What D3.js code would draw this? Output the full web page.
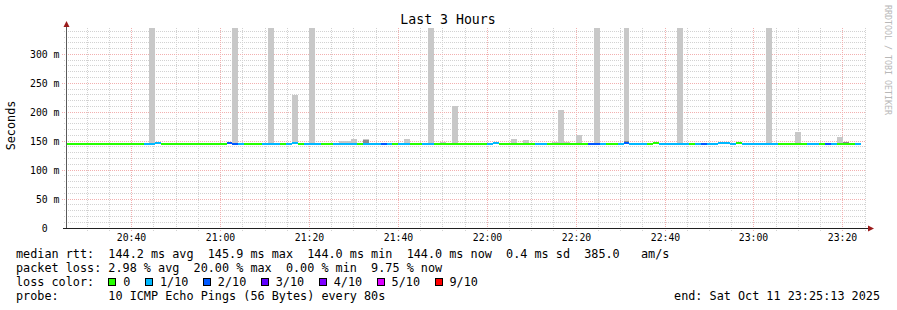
<!DOCTYPE html>
<html>
<head>
<meta charset="utf-8">
<script src="https://cdn.jsdelivr.net/npm/d3@7"></script>
<style>
  body { margin: 0; background: #fff; }
  text { font-family: "DejaVu Sans Mono", monospace; white-space: pre; }
</style>
</head>
<body>
<svg id="chart" width="897" height="310"></svg>
<script>
// time window of the graph and the 80 s rrd steps
const timeStart = new Date(Date.UTC(2025, 9, 11, 20, 25, 13));
const timeEnd = new Date(Date.UTC(2025, 9, 11, 23, 25, 13));
const firstStep = new Date(Date.UTC(2025, 9, 11, 20, 25, 20));
const stepSeconds = 80;

// lost pings (out of 10) per step
const loss = [
  0,0,0,0,0,0,0,0,0,0,
  0,0,0,1,1,1,0,0,0,0,
  0,0,0,0,0,0,0,2,2,1,
  0,0,0,1,1,1,0,1,1,0,
  1,1,1,0,0,1,1,1,1,0,
  1,1,1,2,1,0,1,1,0,0,
  1,1,0,0,0,0,0,0,0,0,
  0,1,1,0,0,0,0,0,0,1,
  1,0,0,0,0,0,0,0,2,2,
  1,0,0,1,2,1,1,1,0,0,
  1,1,1,1,1,0,1,2,1,1,
  1,1,1,0,1,1,1,1,1,1,
  0,0,0,0,0,1,1,0,2,1,
  0,0,0,1
];

// median rtt (ms) per step
const median = [
  144.0,144.0,144.0,144.0,144.0,144.0,144.0,144.0,144.0,144.0,
  144.0,144.0,144.0,144.0,144.0,145.8,144.0,144.0,144.0,144.0,
  144.0,144.0,144.0,144.0,144.0,144.0,144.0,145.9,144.0,144.0,
  144.0,144.0,144.0,144.0,144.0,144.0,144.0,144.0,145.7,144.0,
  144.0,144.0,144.0,144.0,144.0,144.0,144.0,144.0,144.0,144.0,
  144.0,144.0,144.0,144.0,144.0,144.0,144.0,144.0,144.0,144.0,
  144.0,144.0,144.0,144.0,144.0,144.0,144.0,144.0,144.0,144.0,
  144.0,144.0,145.6,144.0,144.0,144.0,144.0,144.0,144.0,144.0,
  144.0,144.0,144.0,144.0,144.0,144.0,144.0,144.0,144.0,144.0,
  144.0,144.0,144.0,144.0,145.9,144.0,144.0,144.0,144.0,145.5,
  144.0,144.0,144.0,144.0,144.0,144.0,144.0,144.0,144.0,144.0,
  145.6,145.6,144.0,145.7,144.0,144.0,144.0,144.0,144.0,144.0,
  144.0,144.0,144.0,144.0,144.0,144.0,144.0,144.0,144.0,144.0,
  144.0,144.0,144.0,144.0
];

// highest ping of each step (outer smoke), null = nothing above the median
const smokeHigh = [
  null,null,null,null,null,147,null,147,null,null,
  null,null,null,null,410,null,null,null,null,null,
  null,null,null,null,null,null,null,null,395,146,
  null,null,null,null,430,null,null,null,230,null,
  null,388,null,null,null,null,150,150,154,null,
  153.5,null,null,null,null,null,null,154,null,null,
  null,402,null,148,null,211,null,null,null,null,
  null,null,null,147,null,154,null,152,null,null,
  null,147,149,204,148,null,160,null,null,420,
  null,null,null,147,415,null,null,null,null,null,
  null,null,null,398,null,null,null,null,null,null,
  null,null,null,null,null,null,null,null,405,null,
  null,null,null,166,null,null,null,null,null,null,
  158,148,null,null
];

// inner (denser) smoke
const smokeInner = [
  null,null,null,null,null,null,null,null,null,null,
  null,null,null,null,null,null,null,null,null,null,
  null,null,null,null,null,null,null,null,null,null,
  null,null,null,null,null,null,null,null,null,null,
  null,null,null,null,null,null,null,null,null,null,
  152,null,null,null,null,null,null,null,null,null,
  null,null,null,null,null,null,null,null,null,null,
  null,null,null,null,null,null,null,null,null,null,
  null,null,null,null,147.5,null,null,null,null,null,
  null,null,null,null,151,null,null,null,null,null,
  null,null,null,null,null,null,null,null,null,null,
  null,null,null,null,null,null,null,null,null,null,
  null,null,null,null,null,null,null,null,null,null,
  null,148,null,null
];

const lossLevels = [0, 1, 2, 3, 4, 5, 9];
const lossLabels = ["0", "1/10", "2/10", "3/10", "4/10", "5/10", "9/10"];
const lossColors = ["#26ff00", "#00b8ff", "#0059ff", "#5e00ff", "#7e00ff", "#dd00ff", "#ff0000"];

const yTicks = [0, 50, 100, 150, 200, 250, 300];

const legendRows = [
  "median rtt:  144.2 ms avg  145.9 ms max  144.0 ms min  144.0 ms now  0.4 ms sd  385.0   am/s",
  "packet loss: 2.98 % avg  20.00 % max  0.00 % min  9.75 % now"
];
const probeText = "10 ICMP Echo Pings (56 Bytes) every 80s";
const endText = "end: Sat Oct 11 23:25:13 2025";

const svg = d3.select("#chart");

const x = d3.scaleUtc().domain([timeStart, timeEnd]).range([66, 866]);
const y = d3.scaleLinear().domain([0, 345.6]).range([228, 28]);

function lossColor(l) {
  let c = lossColors[0];
  lossLevels.forEach((lv, i) => { if (l >= lv) c = lossColors[i]; });
  return c;
}

const steps = loss.map((l, i) => {
  const t0 = new Date(firstStep.getTime() + i * stepSeconds * 1000);
  const t1 = new Date(t0.getTime() + stepSeconds * 1000);
  return { i, t0, t1, loss: l, med: median[i], hi: smokeHigh[i], inner: smokeInner[i] };
});

// grid
const minorT = d3.utcMinute.every(5).range(timeStart, timeEnd);
const majorT = d3.utcMinute.every(20).range(timeStart, timeEnd);
const grid = svg.append("g").attr("stroke-dasharray", "1,1").attr("stroke-width", 1);

grid.selectAll(".vmin").data(minorT).join("line")
  .attr("x1", (t) => Math.floor(x(t)) + 0.5).attr("x2", (t) => Math.floor(x(t)) + 0.5)
  .attr("y1", 28).attr("y2", 231)
  .attr("stroke", "#d2d2d2");
const minorV = d3.range(0, 346, 10).filter((v) => v % 50 !== 0);
grid.selectAll(".hmin").data(minorV).join("line")
  .attr("x1", 64).attr("x2", 866)
  .attr("y1", (v) => Math.floor(y(v)) + 0.5).attr("y2", (v) => Math.floor(y(v)) + 0.5)
  .attr("stroke", "#d2d2d2");
grid.selectAll(".vmaj").data(majorT).join("line")
  .attr("x1", (t) => Math.floor(x(t)) + 0.5).attr("x2", (t) => Math.floor(x(t)) + 0.5)
  .attr("y1", 28).attr("y2", 232)
  .attr("stroke", "#f2b0b0");
grid.selectAll(".hmaj").data(yTicks.slice(1)).join("line")
  .attr("x1", 62).attr("x2", 866)
  .attr("y1", (v) => Math.floor(y(v)) + 0.5).attr("y2", (v) => Math.floor(y(v)) + 0.5)
  .attr("stroke", "#f2b0b0");

// smoke
const bx0 = (d) => Math.max(66, Math.round(x(d.t0)));
const bx1 = (d) => Math.min(866, Math.round(x(d.t1)));
svg.append("g").selectAll("rect").data(steps.filter((d) => d.hi != null)).join("rect")
  .attr("x", bx0).attr("width", (d) => bx1(d) - bx0(d))
  .attr("y", (d) => Math.max(28, Math.round(y(d.hi))))
  .attr("height", (d) => Math.round(y(d.med)) - Math.max(28, Math.round(y(d.hi))))
  .attr("fill", "#c8c8c8");
svg.append("g").selectAll("rect").data(steps.filter((d) => d.inner != null)).join("rect")
  .attr("x", bx0).attr("width", (d) => bx1(d) - bx0(d))
  .attr("y", (d) => Math.round(y(d.inner)))
  .attr("height", (d) => Math.round(y(d.med)) - Math.round(y(d.inner)))
  .attr("fill", "#8c8c8c");

// median coloured by loss
svg.append("g").selectAll("rect").data(steps).join("rect")
  .attr("x", bx0).attr("width", (d) => bx1(d) - bx0(d))
  .attr("y", (d) => Math.round(y(d.med)) - 2)
  .attr("height", 2)
  .attr("fill", (d) => lossColor(d.loss));

// axes
svg.append("line").attr("x1", 66.5).attr("x2", 66.5).attr("y1", 229).attr("y2", 25)
  .attr("stroke", "#5a5a5a");
svg.append("line").attr("x1", 63).attr("x2", 870).attr("y1", 228.5).attr("y2", 228.5)
  .attr("stroke", "#202020");
svg.append("path").attr("d", "M63.5,27 L66.5,21 L69.5,27 Z").attr("fill", "#9b1b1b");
svg.append("path").attr("d", "M868,225.5 L874,228.5 L868,231.5 Z").attr("fill", "#9b1b1b");

// tick labels
svg.append("g").selectAll("text").data(yTicks).join("text")
  .attr("x", 30).attr("y", (v) => Math.floor(y(v)) + 4)
  .attr("font-size", 9.8).attr("fill", "#000")
  .text((v) => (v === 0 ? "0  " : v + " m").padStart(5));
svg.append("g").selectAll("text").data(majorT).join("text")
  .attr("x", (t) => Math.floor(x(t)) + 0.5).attr("y", 241)
  .attr("text-anchor", "middle").attr("font-size", 9.8).attr("fill", "#000")
  .text(d3.utcFormat("%H:%M"));

// title, axis title, watermark
svg.append("text").attr("x", 448).attr("y", 24).attr("text-anchor", "middle")
  .attr("font-size", 13.2).text("Last 3 Hours");
svg.append("text").attr("transform", "translate(15,125.5) rotate(-90)")
  .attr("text-anchor", "middle").attr("font-size", 11.8).text("Seconds");
svg.append("text").attr("transform", "translate(885,5) rotate(90)")
  .attr("font-size", 8.3).attr("fill", "#b8b8b8").text("RRDTOOL / TOBI OETIKER");

// legend
const cw = 11.8 * 0.602;
svg.append("g").selectAll("text").data(legendRows).join("text")
  .attr("x", 16).attr("y", (d, i) => 258 + i * 14)
  .attr("font-size", 11.8).text((d) => d);
svg.append("text").attr("x", 16).attr("y", 286).attr("font-size", 11.8).text("loss color:");
let lx = 16 + 13 * cw;
const lg = svg.append("g");
lossLabels.forEach((lab, i) => {
  lg.append("rect").attr("x", Math.round(lx) + 0.5).attr("y", 278.5)
    .attr("width", 7).attr("height", 7)
    .attr("fill", lossColors[i]).attr("stroke", "#000");
  lg.append("text").attr("x", lx + 15).attr("y", 286).attr("font-size", 11.8).text(lab);
  lx = lx + 15 + lab.length * cw + 14.5;
});
svg.append("text").attr("x", 16).attr("y", 300).attr("font-size", 11.8)
  .text("probe:".padEnd(13) + probeText);
svg.append("text").attr("x", 880).attr("y", 300).attr("text-anchor", "end")
  .attr("font-size", 11.8).text(endText);
</script>
</body>
</html>
